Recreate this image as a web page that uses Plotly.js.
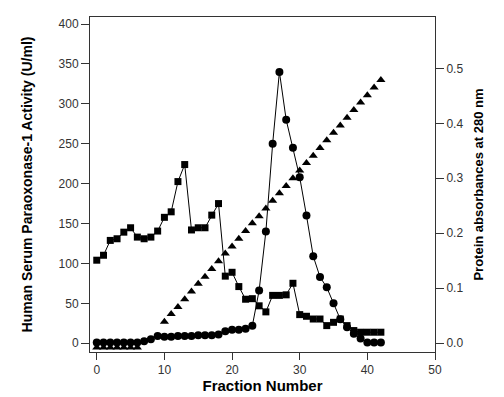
<!DOCTYPE html>
<html>
<head>
<meta charset="utf-8">
<script src="https://cdn.plot.ly/plotly-3.0.1.min.js"></script>
<style>html,body{margin:0;padding:0;background:#fff;}#chart{width:504px;height:397px;}</style>
</head>
<body>
<div id="chart"></div>
<script>
// Fraction numbers
const fractions = [0,1,2,3,4,5,6,7,8,9,10,11,12,13,14,15,16,17,18,19,20,21,22,23,24,25,26,27,28,29,30,31,32,33,34,35,36,37,38,39,40,41,42];

// Paraoxonase-1 activity (U/ml), circles, left axis
const activity = [1,1,1,1,1,1,1,2.5,5,9,8,8,9,9,9,10,10,10,11,15,17,17,18,22,66,140,250,340,280,245,208,160,109,83,70,50,30,20,12,6,1,1,1];

// Protein absorbance at 280 nm, squares, right axis
const protein = [0.151,0.160,0.187,0.190,0.202,0.210,0.193,0.190,0.193,0.204,0.229,0.239,0.294,0.325,0.206,0.210,0.210,0.233,0.254,0.122,0.129,0.103,0.080,0.081,0.068,0.057,0.087,0.087,0.088,0.109,0.052,0.049,0.044,0.044,0.032,0.038,0.044,0.032,0.023,0.020,0.020,0.020,0.020];

// Gradient, triangles, right axis
const gradFractions = [0,1,2,3,4,5,6,10,11,12,13,14,15,16,17,18,19,20,21,22,23,24,25,26,27,28,29,30,31,32,33,34,35,36,37,38,39,40,41,42];
const gradient = [-0.008,-0.008,-0.008,-0.008,-0.008,-0.008,-0.008,0.039,0.053,0.066,0.080,0.094,0.108,0.121,0.135,0.149,0.163,0.176,0.190,0.204,0.218,0.231,0.245,0.259,0.273,0.286,0.300,0.314,0.328,0.341,0.355,0.369,0.383,0.396,0.410,0.424,0.438,0.451,0.465,0.479];

const leftTicks = [0,50,100,150,200,250,300,350,400];
const rightTicks = [0,0.1,0.2,0.3,0.4,0.5];
const xTicks = [0,10,20,30,40,50];

const font = "Liberation Sans, Arial, sans-serif";
const traces = [
  {x: fractions, y: protein, yaxis: 'y2', mode: 'lines+markers', type: 'scatter',
   line: {color: '#000', width: 1}, marker: {symbol: 'square', size: 7, color: '#000'}, name: 'Protein'},
  {x: fractions, y: activity, yaxis: 'y', mode: 'lines+markers', type: 'scatter',
   line: {color: '#000', width: 1}, marker: {symbol: 'circle', size: 8, color: '#000'}, name: 'Activity'},
  {x: gradFractions, y: gradient, yaxis: 'y2', mode: 'markers', type: 'scatter',
   marker: {symbol: 'triangle-up', size: 8, color: '#000'}, name: 'Gradient'}
];

const layout = {
  width: 504, height: 397,
  margin: {l: 90, r: 69, t: 17, b: 45},
  paper_bgcolor: '#fff', plot_bgcolor: '#fff',
  showlegend: false,
  font: {family: font, color: '#333', size: 11},
  xaxis: {
    range: [-1, 50], tickvals: xTicks, ticks: 'outside', ticklen: 7, tickcolor: '#333',
    showline: true, linecolor: '#333', linewidth: 1, mirror: true, showgrid: false, zeroline: false,
    tickfont: {size: 12, color: '#333'},
    title: {text: 'Fraction Number', font: {size: 15, color: '#000', family: font, weight: 'bold'}, standoff: 4}
  },
  yaxis: {
    range: [-11, 408.8], tickvals: leftTicks, ticks: 'outside', ticklen: 8, tickcolor: '#333',
    showline: true, linecolor: '#333', linewidth: 1, showgrid: false, zeroline: false,
    tickfont: {size: 12, color: '#333'},
    title: {text: 'Human Serum Paraoxonase-1 Activity (U/ml)', font: {size: 14, color: '#000', family: font, weight: 'bold'}, standoff: 22}
  },
  yaxis2: {
    overlaying: 'y', side: 'right',
    range: [-0.016, 0.5934], tickvals: rightTicks, ticktext: rightTicks.map(v => v.toFixed(1)),
    ticks: 'outside', ticklen: 8, tickcolor: '#333',
    showline: true, linecolor: '#333', linewidth: 1, showgrid: false, zeroline: false,
    tickfont: {size: 12, color: '#333'},
    title: {text: 'Protein absorbances at 280 nm', font: {size: 13, color: '#000', family: font, weight: 'bold'}, standoff: 11}
  }
};

Plotly.newPlot('chart', traces, layout, {displayModeBar: false, staticPlot: true});
</script>
</body>
</html>
